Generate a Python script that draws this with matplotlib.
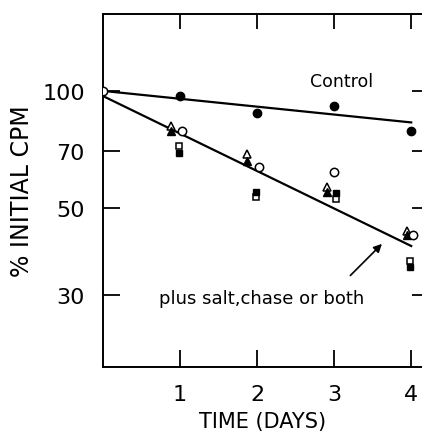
import matplotlib
matplotlib.use("Agg")
import matplotlib.pyplot as plt

# ---- data ----
days = [0, 1, 2, 3, 4]
control = [100, 97, 88, 91.5, 79]
control_fit = [100, 83]          # fitted line, day 0 -> day 4
treated_fit = [97, 40]           # fitted line, day 0 -> day 4
fit_days = [0, 4]

circle_days = [1.02, 2.02, 3.0, 4.02]
triangle_days = [0.88, 1.87, 2.91, 3.94]
square_days = [0.99, 1.99, 3.02, 3.99]
open_circle = [79, 63.8, 62, 42.7]
open_triangle = [81.3, 68.9, 56.7, 43.8]
filled_triangle = [79, 66.1, 55.1, 42.7]
open_square = [72, 53.5, 52.8, 36.6]
filled_square = [69.3, 55.1, 54.8, 35.4]

y_ticks = [30, 50, 70, 100]
y_ticklabels = ["30", "50", "70", "100"]
x_ticks = [1, 2, 3, 4]
x_ticklabels = ["1", "2", "3", "4"]

fig = plt.figure(figsize=(4.22, 4.39), dpi=100)
ax = fig.add_axes([103/422, 1 - 368/439, (422 - 103)/422, (368 - 15)/439])
ax.set_yscale("log")
ax.set_xlim(0, 4.14)
ax.set_ylim(19.57, 157.5)

lw = 1.6
ax.plot(fit_days, control_fit, color="black", lw=lw, zorder=2)
ax.plot(fit_days, treated_fit, color="black", lw=lw, zorder=2)

ms = 6
ax.plot(days[1:], control[1:], "o", color="black", ms=ms, zorder=3)
ax.plot([0], [100], "o", mfc="white", mec="black", ms=ms, mew=1.1, zorder=4)
ax.plot(triangle_days, open_triangle, "^", mfc="white", mec="black", ms=5.5, mew=1.1, ls="none", zorder=3)
ax.plot(triangle_days, filled_triangle, "^", color="black", ms=5.5, ls="none", zorder=3)
ax.plot(square_days, open_square, "s", mfc="white", mec="black", ms=4.8, mew=1.1, ls="none", zorder=3)
ax.plot(square_days, filled_square, "s", color="black", ms=4.8, ls="none", zorder=3)
ax.plot(circle_days, open_circle, "o", mfc="white", mec="black", ms=ms, mew=1.1, ls="none", zorder=4)

ax.text(3.09, 106, "Control", fontsize=12.5, ha="center", va="center")
ax.text(2.06, 29.4, "plus salt,chase or both", fontsize=13, ha="center", va="center")
ax.annotate("", xy=(3.62, 40.5), xytext=(3.21, 33.6),
            arrowprops=dict(arrowstyle="-|>", color="black", lw=1.2,
                            mutation_scale=12, shrinkA=0, shrinkB=0))

ax.yaxis.set_minor_locator(matplotlib.ticker.NullLocator())
ax.xaxis.set_minor_locator(matplotlib.ticker.NullLocator())
ax.set_yticks(y_ticks)
ax.set_yticklabels(y_ticklabels)
ax.set_xticks(x_ticks)
ax.set_xticklabels(x_ticklabels)

ax.tick_params(axis="both", direction="in", length=12, width=1.3,
               top=True, right=True, labelsize=16)
ax.tick_params(axis="x", pad=12)
ax.tick_params(axis="y", pad=13)
for t in ax.yaxis.get_major_ticks():
    t.tick2line.set_markersize(7)
for t in ax.xaxis.get_major_ticks():
    t.tick2line.set_markersize(11)

for side in ["left", "bottom", "top"]:
    ax.spines[side].set_linewidth(1.4)
ax.spines["right"].set_visible(False)

ax.set_xlabel("TIME (DAYS)", fontsize=15, labelpad=5)
ax.set_ylabel("% INITIAL CPM", fontsize=17, labelpad=6)

fig.savefig("out.png", dpi=100)
